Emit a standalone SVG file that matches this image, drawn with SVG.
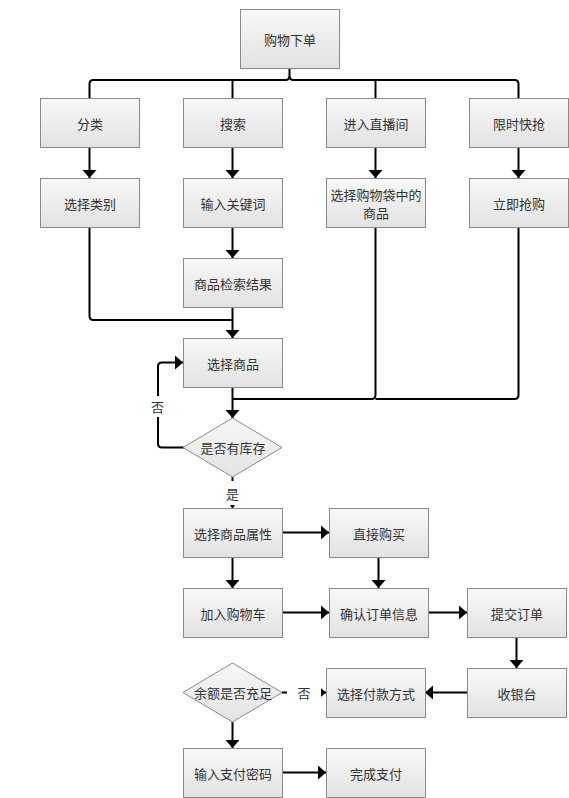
<svg xmlns="http://www.w3.org/2000/svg" width="569" height="798" viewBox="0 0 569 798">
<defs>
<linearGradient id="g" x1="0" y1="0" x2="0" y2="1">
<stop offset="0" stop-color="#f8f8f8"/>
<stop offset="1" stop-color="#e2e2e2"/>
</linearGradient>
<marker id="ah" markerUnits="userSpaceOnUse" markerWidth="10" markerHeight="16" refX="8" refY="0" viewBox="0 -8 10 16" orient="auto">
<path d="M0,-7 L8,0 L0,7 Z" fill="#000"/>
</marker>
<style>
.box{fill:url(#g);stroke:#8a8a8a;stroke-width:1}
.t{font-family:"Noto Sans CJK SC","Noto Sans",sans-serif;font-size:13px;fill:#333;text-anchor:middle;dominant-baseline:central}
.c{fill:none;stroke:#000;stroke-width:2}
.a{marker-end:url(#ah)}
.lb{fill:#fff}
</style>
</defs>
<rect width="569" height="798" fill="#fff"/>
<g id="connectors">
<path class="c" d="M289.5,68 V76 Q289.5,80 285.5,80 H93.5 Q89.5,80 89.5,84 V98"/>
<path class="c" d="M289.5,76 Q289.5,80 293.5,80 H514.5 Q518.5,80 518.5,84 V98"/>
<path class="c" d="M232.5,80 V98"/>
<path class="c" d="M375.5,80 V98"/>
<path class="c a" d="M89.5,147 V178"/>
<path class="c a" d="M232.5,147 V178"/>
<path class="c a" d="M375.5,147 V178"/>
<path class="c a" d="M518.5,147 V178"/>
<path class="c a" d="M232.5,227 V258"/>
<path class="c a" d="M232.5,307 V338"/>
<path class="c" d="M89.5,227 V316 Q89.5,320 93.5,320 H232.5"/>
<path class="c a" d="M232.5,387 V418"/>
<path class="c" d="M375.5,227 V395 Q375.5,399 371.5,399 H232.5"/>
<path class="c" d="M518.5,227 V395 Q518.5,399 514.5,399 H375.5"/>
<path class="c a" d="M184,447.5 H162 Q158,447.5 158,443.5 V366.5 Q158,362.5 162,362.5 H183"/>
<rect class="lb" x="148" y="396" width="19" height="21"/>
<text class="t" x="157.5" y="406">否</text>
<path class="c a" d="M232.5,477 V508"/>
<rect class="lb" x="222" y="481" width="21" height="24"/>
<text class="t" x="232.5" y="493">是</text>
<path class="c a" d="M282,532.5 H329"/>
<path class="c a" d="M232.5,557 V588"/>
<path class="c a" d="M378.5,557 V588"/>
<path class="c a" d="M282,612.5 H329"/>
<path class="c a" d="M428,612.5 H467"/>
<path class="c a" d="M516.5,637 V668"/>
<path class="c a" d="M467,692.5 H425"/>
<path class="c a" d="M282,692.5 H326"/>
<rect class="lb" x="287" y="682" width="34" height="21"/>
<text class="t" x="304" y="692.5">否</text>
<path class="c a" d="M232.5,722 V748"/>
<path class="c a" d="M282,772.5 H326"/>
</g>
<g id="n_start"><rect class="box" x="240.5" y="9.5" width="99" height="59"/><text class="t" x="290" y="39">购物下单</text></g>
<g id="n_fenlei"><rect class="box" x="40.5" y="98.5" width="99" height="49"/><text class="t" x="90" y="123">分类</text></g>
<g id="n_sousuo"><rect class="box" x="183.5" y="98.5" width="99" height="49"/><text class="t" x="233" y="123">搜索</text></g>
<g id="n_zhibo"><rect class="box" x="326.5" y="98.5" width="99" height="49"/><text class="t" x="376" y="123">进入直播间</text></g>
<g id="n_xianshi"><rect class="box" x="469.5" y="98.5" width="99" height="49"/><text class="t" x="519" y="123">限时快抢</text></g>
<g id="n_leibie"><rect class="box" x="40.5" y="178.5" width="99" height="49"/><text class="t" x="90" y="203">选择类别</text></g>
<g id="n_guanjianci"><rect class="box" x="183.5" y="178.5" width="99" height="49"/><text class="t" x="233" y="203">输入关键词</text></g>
<g id="n_gouwudai"><rect class="box" x="326.5" y="178.5" width="99" height="49"/><text class="t" x="376" y="194">选择购物袋中的</text><text class="t" x="376" y="212.5">商品</text></g>
<g id="n_qianggou"><rect class="box" x="469.5" y="178.5" width="99" height="49"/><text class="t" x="519" y="203">立即抢购</text></g>
<g id="n_jiansuo"><rect class="box" x="183.5" y="258.5" width="99" height="49"/><text class="t" x="233" y="283">商品检索结果</text></g>
<g id="n_xuanze"><rect class="box" x="183.5" y="338.5" width="99" height="49"/><text class="t" x="233" y="363">选择商品</text></g>
<g id="n_kucun"><polygon class="box" points="232.5,418 282,447.5 232.5,477 183,447.5"/><text class="t" x="233" y="447.5">是否有库存</text></g>
<g id="n_shuxing"><rect class="box" x="183.5" y="508.5" width="99" height="49"/><text class="t" x="233" y="533">选择商品属性</text></g>
<g id="n_zhijie"><rect class="box" x="329.5" y="508.5" width="99" height="49"/><text class="t" x="379" y="533">直接购买</text></g>
<g id="n_gouwuche"><rect class="box" x="183.5" y="588.5" width="99" height="49"/><text class="t" x="233" y="613">加入购物车</text></g>
<g id="n_queren"><rect class="box" x="329.5" y="588.5" width="99" height="49"/><text class="t" x="379" y="613">确认订单信息</text></g>
<g id="n_tijiao"><rect class="box" x="467.5" y="588.5" width="99" height="49"/><text class="t" x="517" y="613">提交订单</text></g>
<g id="n_shouyin"><rect class="box" x="467.5" y="668.5" width="99" height="49"/><text class="t" x="517" y="693">收银台</text></g>
<g id="n_fukuan"><rect class="box" x="326.5" y="668.5" width="99" height="49"/><text class="t" x="376" y="693">选择付款方式</text></g>
<g id="n_yue"><polygon class="box" points="232.5,663 282,692.5 232.5,722 183,692.5"/><text class="t" x="233" y="692.5">余额是否充足</text></g>
<g id="n_mima"><rect class="box" x="183.5" y="748.5" width="99" height="49"/><text class="t" x="233" y="773">输入支付密码</text></g>
<g id="n_wancheng"><rect class="box" x="326.5" y="748.5" width="99" height="49"/><text class="t" x="376" y="773">完成支付</text></g>
</svg>
